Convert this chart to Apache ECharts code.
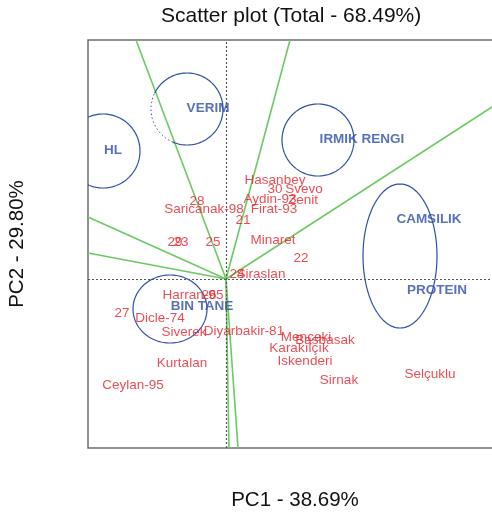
<!DOCTYPE html>
<html><head><meta charset="utf-8">
<script src="https://cdn.jsdelivr.net/npm/echarts@6/dist/echarts.min.js"></script>
<style>html,body{margin:0;padding:0;background:#fff}#c{width:492px;height:517px}</style>
</head><body><div id="c"></div>
<script>
// ---- data ----
const genotypeNames = ['Hasanbey','30','Svevo','Aydin-93','Zenit','Firat-93','Saricanak-98','28','21','29','23','25','Minaret','22','24','Siraslan','Harran-95','26','27','Dicle-74','Siverek','Diyarbakir-81','Menceki','Basbasak','Karakılçık','Iskenderi','Kurtalan','Sirnak','Selçuklu','Ceylan-95'];
const genotypePC1 = [0.98,0.98,1.56,0.88,1.54,0.96,-0.44,-0.58,0.34,-1.02,-0.90,-0.26,0.94,1.50,0.22,0.70,-0.66,-0.34,-2.08,-1.32,-0.84,0.36,1.60,1.98,1.46,1.58,-0.88,2.26,4.08,-1.86];
const genotypePC2 = [1.98,1.80,1.80,1.60,1.58,1.40,1.40,1.56,1.18,0.74,0.74,0.74,0.78,0.42,0.10,0.10,-0.32,-0.32,-0.68,-0.78,-1.06,-1.04,-1.16,-1.22,-1.38,-1.64,-1.68,-2.02,-1.90,-2.12];

const traitNames = ['VERIM','HL','IRMIK RENGI','CAMSILIK','PROTEIN','BIN TANE'];
const traitLabelPC1 = [-0.36,-2.26,2.72,4.06,4.22,-0.48];
const traitLabelPC2 = [3.42,2.58,2.80,1.20,-0.22,-0.54];

const circleCenterPC1 = [-0.78,-2.46,1.84,3.48,-1.12];
const circleCenterPC2 = [3.40,2.56,2.78,0.46,-0.60];
const circleRadiusPC1 = [0.72,0.74,0.72,0.74,0.74];
const circleRadiusPC2 = [0.72,0.74,0.72,1.44,0.68];

const vectorEndPC1 = [-1.80,1.28,5.52,-2.76,-2.76,0.06,0.24];
const vectorEndPC2 = [4.78,4.78,3.57,1.24,0.52,-3.38,-3.38];

const rangePC1 = [-2.76, 5.52];
const rangePC2 = [-3.38, 4.78];

// ---- styles ----
const FONT = '"Liberation Sans", Arial, Helvetica, sans-serif';
const RED = '#e5222a';
const BLUE = '#2f4ea6';
const GREEN = '#6cc964';
const dottedArcs = {0: [113, 206]}; // screen angles (deg) of the dotted part

const chart = echarts.init(document.getElementById('c'), null, {renderer: 'canvas'});

function ellipsePts(cx, cy, rx, ry, a0, a1) {
  const pts = [];
  const n = Math.max(8, Math.ceil(Math.abs(a1 - a0) / 2));
  for (let i = 0; i <= n; i++) {
    const a = (a0 + (a1 - a0) * i / n) * Math.PI / 180;
    pts.push([cx + rx * Math.cos(a), cy + ry * Math.sin(a)]);
  }
  return pts;
}

const option = {
  backgroundColor: '#fff',
  animation: false,
  title: {
    text: 'Scatter plot (Total - 68.49%)',
    left: 161, top: 6, padding: 0,
    textStyle: {fontFamily: FONT, fontSize: 21, fontWeight: 'normal', color: '#111'}
  },
  grid: {left: 88, top: 40, width: 414, height: 408, outerBoundsMode: 'none', containLabel: false, show: true, borderColor: '#6e6e6e', borderWidth: 1.5, backgroundColor: 'transparent'},
  xAxis: {
    type: 'value', min: rangePC1[0], max: rangePC1[1],
    name: 'PC1 - 38.69%', nameLocation: 'middle', nameGap: 42,
    nameTextStyle: {fontFamily: FONT, fontSize: 20.5, color: '#111'},
    axisLine: {show: false}, axisTick: {show: false}, axisLabel: {show: false}, splitLine: {show: false}
  },
  yAxis: {
    type: 'value', min: rangePC2[0], max: rangePC2[1],
    name: 'PC2 - 29.80%', nameLocation: 'middle', nameGap: 60,
    nameTextStyle: {fontFamily: FONT, fontSize: 20.5, color: '#111'},
    axisLine: {show: false}, axisTick: {show: false}, axisLabel: {show: false}, splitLine: {show: false}
  },
  series: [
    {
      type: 'line', data: [], silent: true,
      markLine: {
        silent: true, symbol: ['none', 'none'], label: {show: false},
        lineStyle: {color: '#555', type: [2, 2], width: 1.2},
        data: [{xAxis: 0}, {yAxis: 0}]
      }
    },
    {
      type: 'lines', coordinateSystem: 'cartesian2d', silent: true, z: 3,
      lineStyle: {color: GREEN, width: 1.6, opacity: 1},
      data: vectorEndPC1.map((x, i) => ({coords: [[0, 0], [x, vectorEndPC2[i]]]}))
    },
    {
      type: 'custom', silent: true, z: 4,
      data: circleCenterPC1.map((x, i) => [x, circleCenterPC2[i], circleRadiusPC1[i], circleRadiusPC2[i]]),
      renderItem: function (params, api) {
        const c = api.coord([api.value(0), api.value(1)]);
        const s = api.size([api.value(2), api.value(3)]);
        const rx = s[0], ry = s[1];
        const cs = params.coordSys;
        const children = [];
        const d = dottedArcs[params.dataIndex];
        const style = {stroke: BLUE, fill: 'none', lineWidth: 1.2};
        if (d) {
          children.push({type: 'polyline', shape: {points: ellipsePts(c[0], c[1], rx, ry, d[1], d[0] + 360)}, style: style});
          children.push({type: 'polyline', shape: {points: ellipsePts(c[0], c[1], rx, ry, d[0], d[1])}, style: {stroke: BLUE, fill: 'none', lineWidth: 1, lineDash: [1.5, 2.5]}});
        } else {
          children.push({type: 'polyline', shape: {points: ellipsePts(c[0], c[1], rx, ry, 0, 360)}, style: style});
        }
        return {
          type: 'group', children: children,
          clipPath: {type: 'rect', shape: {x: cs.x, y: cs.y, width: cs.width, height: cs.height}}
        };
      }
    },
    {
      type: 'scatter', silent: true, z: 6, symbolSize: 1, itemStyle: {color: 'rgba(0,0,0,0)'},
      data: genotypeNames.map((n, i) => ({name: n, value: [genotypePC1[i], genotypePC2[i]]})),
      label: {show: true, position: 'inside', formatter: p => p.name, color: RED, fontFamily: FONT, fontSize: 13.5}
    },
    {
      type: 'scatter', silent: true, z: 6, symbolSize: 1, itemStyle: {color: 'rgba(0,0,0,0)'},
      data: traitNames.map((n, i) => ({name: n, value: [traitLabelPC1[i], traitLabelPC2[i]]})),
      label: {show: true, position: 'inside', formatter: p => p.name, color: BLUE, fontFamily: FONT, fontSize: 13.5, fontWeight: 'bold'}
    }
  ]
};
chart.setOption(option);
</script>
</body></html>
